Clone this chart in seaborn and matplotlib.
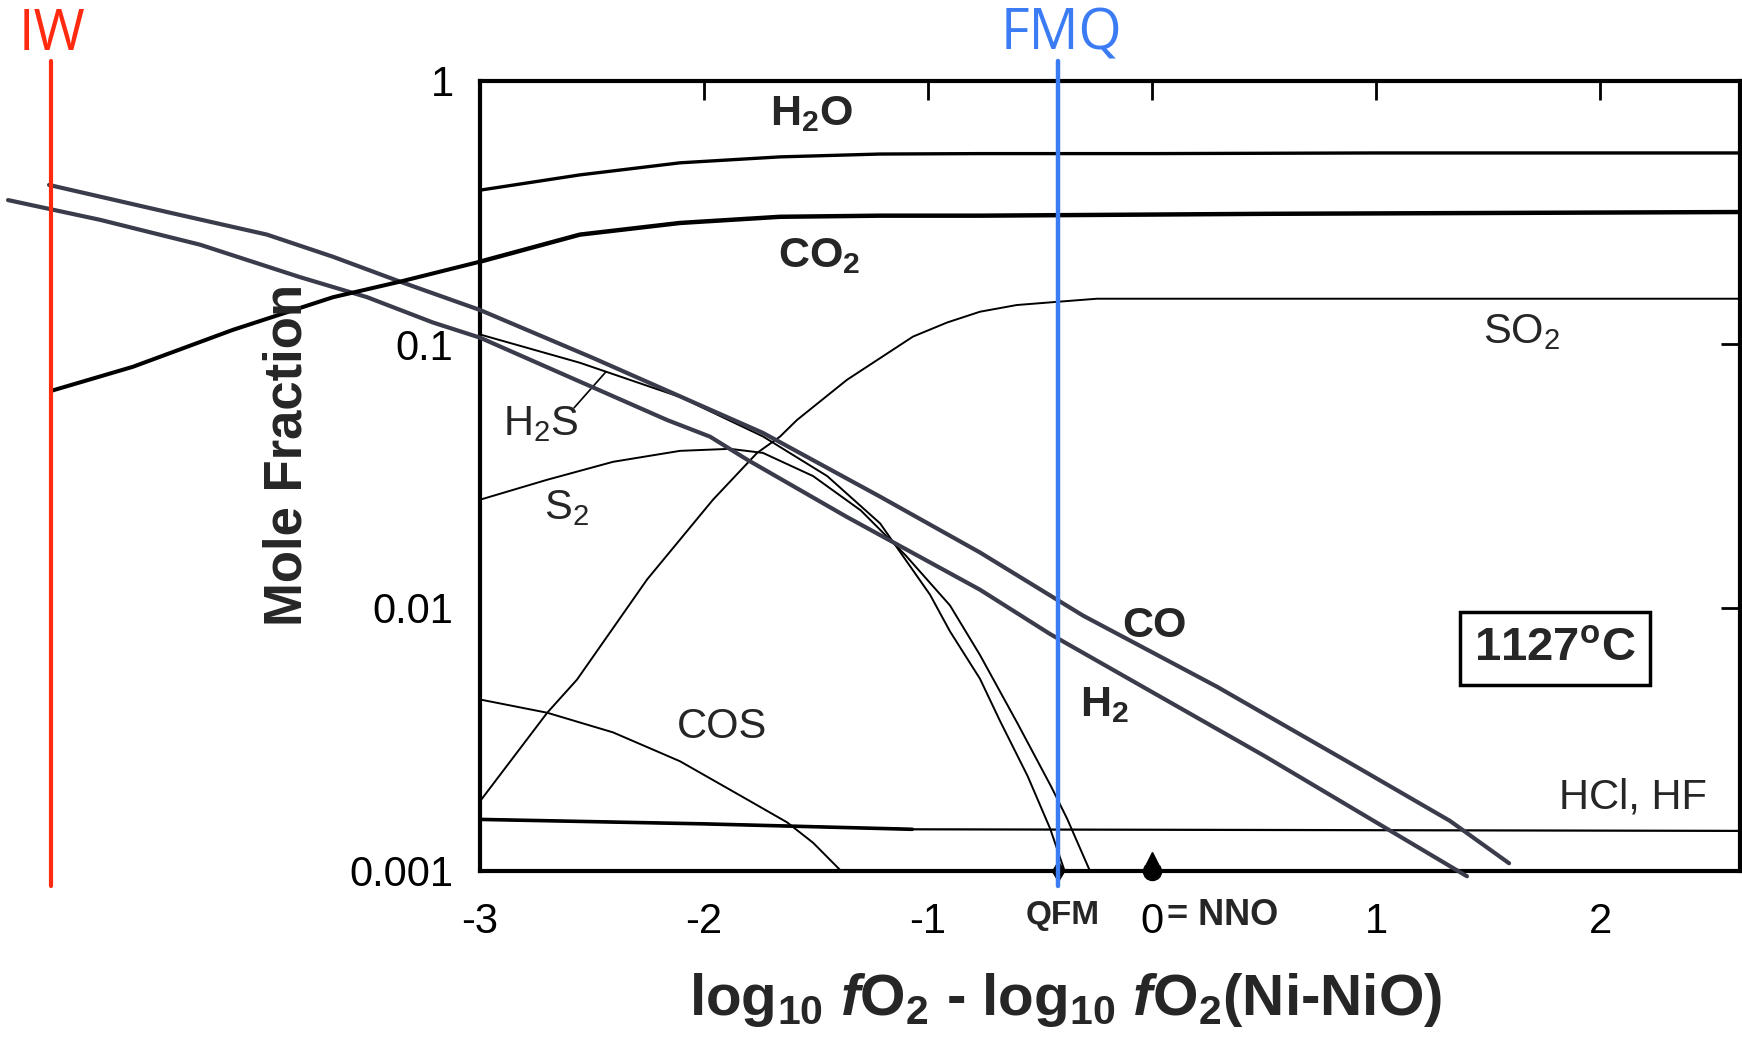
import numpy as np
import pandas as pd
import matplotlib.pyplot as plt
import matplotlib.transforms as mtransforms
import seaborn as sns

# Datos (x = log10 fO2 - log10 fO2(NNO), y = fraccion molar)
h2o_x = [-3.0, -2.554, -2.107, -1.661, -1.214, -0.768, 0.0, 1.0, 2.625]
h2o_y = [0.385, 0.440, 0.489, 0.515, 0.528, 0.530, 0.530, 0.533, 0.533]

co2_x = [-3.0, -2.554, -2.107, -1.661, -1.214, -0.768, 0.5, 2.625]
co2_y = [0.206, 0.261, 0.289, 0.305, 0.308, 0.308, 0.313, 0.318]

so2_x = [-3.0, -2.70, -2.567, -2.254, -1.96, -1.763, -1.661, -1.585, -1.362, -1.067,
         -0.915, -0.768, -0.604, -0.424, -0.246, 2.625]
so2_y = [0.00184, 0.00399, 0.00533, 0.0128, 0.0257, 0.0387, 0.0446, 0.0516, 0.0733, 0.107,
         0.121, 0.133, 0.141, 0.145, 0.149, 0.149]

h2s_x = [-3.0, -2.554, -2.107, -1.737, -1.45, -1.214, -0.991, -0.902, -0.768,
         -0.679, -0.555, -0.455, -0.39]
h2s_y = [0.109, 0.0851, 0.0631, 0.0447, 0.0316, 0.0209, 0.0112, 0.00813, 0.00537,
         0.00372, 0.00229, 0.00145, 0.001]

s2_x = [-3.0, -2.70, -2.406, -2.107, -1.884, -1.737, -1.513, -1.30, -1.1, -0.902,
        -0.768, -0.6, -0.45, -0.379, -0.277]
s2_y = [0.0257, 0.0306, 0.0358, 0.0394, 0.0401, 0.0387, 0.0316, 0.0234, 0.0158, 0.0102,
        0.00661, 0.00363, 0.00209, 0.00158, 0.001]

cos_x = [-3.0, -2.70, -2.406, -2.107, -1.808, -1.629, -1.513, -1.393]
cos_y = [0.00448, 0.00399, 0.00336, 0.00261, 0.00187, 0.00153, 0.00128, 0.00101]

hcl_x = [-3.0, -2.0, -1.07, 2.625]
hcl_y = [0.00157, 0.00151, 0.00144, 0.00142]

# Lineas superpuestas (CO y H2 extrapoladas hasta IW)
co_x = [-4.924, -4.397, -3.951, -3.656, -3.357, -3.0, -2.5, -1.737, -1.214, -0.768,
        -0.308, 0.29, 0.884, 1.33, 1.594]
co_y = [0.403, 0.318, 0.261, 0.215, 0.173, 0.135, 0.0891, 0.0461, 0.0264, 0.0162,
        0.00933, 0.00501, 0.00257, 0.00155, 0.00107]

h2_x = [-5.107, -4.696, -4.25, -3.804, -3.504, -3.21, -3.0, -2.165, -1.973, -1.808,
        -1.362, -0.768, -0.455, 0.5, 1.406]
h2_y = [0.353, 0.297, 0.239, 0.180, 0.151, 0.121, 0.106, 0.0516, 0.0446, 0.0365,
        0.0221, 0.0117, 0.00794, 0.00274, 0.000955]

co2_ext_x = [-4.911, -4.549, -4.103, -3.656, -3.357, -3.0]
co2_ext_y = [0.0667, 0.0822, 0.1135, 0.151, 0.173, 0.206]

iw_x = -4.915
fmq_x = -0.421

xticks = [-3, -2, -1, 0, 1, 2]
xtick_labels = ["-3", "-2", "-1", "0", "1", "2"]
yticks = [0.001, 0.01, 0.1, 1]
ytick_labels = ["0.001", "0.01", "0.1", "1"]

sns.set_theme(style="white")
plt.rcParams["font.family"] = ["Liberation Sans", "DejaVu Sans"]
plt.rcParams["mathtext.fontset"] = "custom"
plt.rcParams["mathtext.rm"] = "Liberation Sans:bold"
plt.rcParams["mathtext.bf"] = "Liberation Sans:bold"
plt.rcParams["mathtext.it"] = "Liberation Sans:italic:bold"
plt.rcParams["mathtext.sf"] = "Liberation Sans"

fig = plt.figure(figsize=(17.42, 10.42), dpi=100)
ax = fig.add_axes([0.27555, 0.16411, 0.72331, 0.75816])
ax.set_yscale("log")


def curva(x, y, lw, color="black", clip=True, z=2):
    sns.lineplot(x=x, y=y, ax=ax, color=color, lw=lw, sort=False,
                 estimator=None, clip_on=clip, zorder=z)


curva(h2o_x, h2o_y, 2.4)
curva(co2_x, co2_y, 3.2)
curva(so2_x, so2_y, 1.4)
curva(h2s_x, h2s_y, 1.4)
curva(s2_x, s2_y, 1.4)
curva(cos_x, cos_y, 1.4)
curva(hcl_x, hcl_y, 1.6)
curva(hcl_x[:3], hcl_y[:3], 2.6)

overlay = "#3b3c4b"
curva(co_x, co_y, 3.0, color=overlay, clip=False, z=4)
curva(h2_x, h2_y, 3.0, color=overlay, clip=False, z=4)
curva(co2_ext_x, co2_ext_y, 2.9, color="black", clip=False, z=4)

# IW y FMQ
ax.plot([iw_x, iw_x], [1.19, 0.00088], color="#ff2a10", lw=3, clip_on=False, zorder=5)
ax.plot([fmq_x, fmq_x], [1.19, 0.00088], color="#3b7bf4", lw=3.2, clip_on=False, zorder=5)
fig.text(52 / 1742, 0.966, "IW", color="#ff2a10", fontsize=40, family="Open Sans",
         ha="center", va="center")
fig.text(1061 / 1742, 0.966, "FMQ", color="#3b7bf4", fontsize=40, family="Open Sans",
         ha="center", va="center")

# marcadores sobre el eje x
ax.plot([0], [0.001], marker="o", ms=13, color="black", clip_on=False, zorder=6)
ax.plot([0], [0.00112], marker="^", ms=8, color="black", clip_on=False, zorder=6)
ax.plot([fmq_x], [0.001], marker="d", ms=10, color="black", clip_on=False, zorder=4)

ax.set_xlim(-3, 2.625)
ax.set_ylim(0.001, 1)
ax.set_xticks(xticks, labels=xtick_labels)
ax.set_yticks(yticks, labels=ytick_labels)
ax.minorticks_off()
ax.tick_params(direction="in", top=True, right=True, length=14, width=2,
               labelsize=30, colors="black")
ax.tick_params(axis="x", pad=22)
ax.tick_params(axis="y", pad=19)
for s in ax.spines.values():
    s.set_linewidth(3)
    s.set_color("black")

# etiquetas de las especies
ax.text(-1.522, 0.75, r"H$_2$O", fontsize=31, fontweight="bold", ha="center", va="center")
ax.text(-1.487, 0.217, r"CO$_2$", fontsize=31, fontweight="bold", ha="center", va="center")
ax.text(0.013, 0.00855, "CO", fontsize=31, fontweight="bold", ha="center", va="center")
ax.text(-0.21, 0.00428, r"H$_2$", fontsize=31, fontweight="bold", ha="center", va="center")
ax.text(1.652, 0.111, r"SO$_{\mathsf{2}}$", fontsize=30, ha="center", va="center")
ax.text(-2.728, 0.0499, r"H$_{\mathsf{2}}$S", fontsize=30, ha="center", va="center")
ax.text(-2.612, 0.0238, r"S$_{\mathsf{2}}$", fontsize=30, ha="center", va="center")
ax.text(-1.92, 0.00351, "COS", fontsize=30, ha="center", va="center")
ax.text(2.147, 0.0019, "HCl, HF", fontsize=30, ha="center", va="center")
ax.plot([-2.58, -2.4375], [0.0574, 0.0787], color="black", lw=1.2)
ax.text(1.799, 0.00699, r"1127$^{\mathrm{o}}$C", fontsize=34, fontweight="bold",
        ha="center", va="center",
        bbox=dict(boxstyle="square,pad=0.3", fc="white", ec="black", lw=2.5))

trans = mtransforms.blended_transform_factory(ax.transData, ax.transAxes)
ax.text(-0.397, -0.056, "QFM", fontsize=24, fontweight="bold", ha="center", va="center",
        transform=trans)
ax.text(0.067, -0.056, "= NNO", fontsize=26, fontweight="bold", ha="left", va="center",
        transform=trans)

fig.text(287 / 1742, 1 - 455 / 1042, "Mole Fraction", fontsize=38, fontweight="bold",
         rotation=90, ha="center", va="center")
fig.text(1066 / 1742, 1 - 1000 / 1042,
         r"log$_{10}$ $f$O$_2$ - log$_{10}$ $f$O$_2$(Ni-NiO)",
         fontsize=42, fontweight="bold", ha="center", va="center")

fig.savefig("out.png", dpi=100)
